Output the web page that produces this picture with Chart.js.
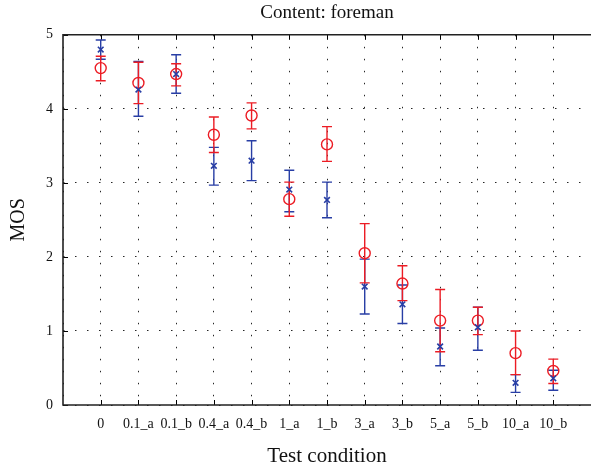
<!DOCTYPE html>
<html>
<head>
<meta charset="utf-8">
<script src="https://cdn.jsdelivr.net/npm/chart.js@4.4.1/dist/chart.umd.min.js"></script>
<style>
  html, body { margin:0; padding:0; background:#fff; }
  #wrap { width:591px; height:469px; }
</style>
</head>
<body>
<div id="wrap"><canvas id="canvas"></canvas></div>
<script>
// test conditions on the x axis
const conditions = ['0', '0.1_a', '0.1_b', '0.4_a', '0.4_b', '1_a', '1_b', '3_a', '3_b', '5_a', '5_b', '10_a', '10_b'];
const yTicks = [0, 1, 2, 3, 4, 5];

// blue series (x markers)
const blueMos  = [4.80, 4.26, 4.47, 3.23, 3.30, 2.91, 2.77, 1.60, 1.36, 0.79, 1.05, 0.30, 0.36];
const blueHigh = [4.93, 4.64, 4.73, 3.48, 3.57, 3.17, 3.01, 1.97, 1.62, 1.04, 1.32, 0.41, 0.47];
const blueLow  = [4.67, 3.90, 4.21, 2.97, 3.03, 2.61, 2.53, 1.23, 1.10, 0.53, 0.74, 0.17, 0.20];

// red series (circles)
const redMos  = [4.55, 4.35, 4.47, 3.65, 3.91, 2.78, 3.52, 2.05, 1.64, 1.14, 1.14, 0.70, 0.46];
const redHigh = [4.71, 4.63, 4.61, 3.89, 4.08, 3.01, 3.76, 2.45, 1.88, 1.56, 1.32, 1.00, 0.62];
const redLow  = [4.38, 4.07, 4.31, 3.41, 3.73, 2.55, 3.29, 1.65, 1.41, 0.72, 0.95, 0.41, 0.29];

const BLUE = 'rgb(40,62,165)';
const RED = 'rgb(236,28,36)';
const FONT = '"Liberation Serif", "DejaVu Serif", serif';

function pts(vals) {
    return vals.map((v, i) => ({x: i, y: v}));
}

// error bars + frame + inward ticks
const errBars = {
    id: 'errBars',
    beforeDatasetsDraw(chart) {
        const ctx = chart.ctx, ys = chart.scales.y, xs = chart.scales.x;
        const a = chart.chartArea;
        ctx.save();
        ctx.strokeStyle = '#000';
        ctx.lineWidth = 1;
        conditions.forEach((c, i) => {
            const px = Math.round(xs.getPixelForValue(i)) + 0.5;
            ctx.beginPath();
            ctx.moveTo(px, a.bottom); ctx.lineTo(px, a.bottom - 5);
            ctx.moveTo(px, a.top); ctx.lineTo(px, a.top + 5);
            ctx.stroke();
        });
        yTicks.forEach(v => {
            const py = Math.round(ys.getPixelForValue(v)) + 0.5;
            ctx.beginPath();
            ctx.moveTo(a.left, py); ctx.lineTo(a.left + 5, py);
            ctx.stroke();
        });
        ctx.restore();

        chart.data.datasets.forEach((ds, di) => {
            const meta = chart.getDatasetMeta(di);
            ctx.save();
            ctx.strokeStyle = ds.borderColor;
            ctx.lineWidth = 1.4;
            meta.data.forEach((p, i) => {
                const hi = ys.getPixelForValue(ds.errHigh[i]);
                const lo = ys.getPixelForValue(ds.errLow[i]);
                ctx.beginPath();
                ctx.moveTo(p.x, hi); ctx.lineTo(p.x, lo);
                ctx.moveTo(p.x - 5, hi); ctx.lineTo(p.x + 5, hi);
                ctx.moveTo(p.x - 5, lo); ctx.lineTo(p.x + 5, lo);
                ctx.stroke();
            });
            ctx.restore();
        });
    },
    afterDraw(chart) {
        const ctx = chart.ctx, a = chart.chartArea;
        ctx.save();
        ctx.strokeStyle = '#222';
        ctx.lineWidth = 1.6;
        ctx.beginPath();
        ctx.moveTo(chart.width, a.top);
        ctx.lineTo(a.left, a.top);
        ctx.lineTo(a.left, a.bottom);
        ctx.lineTo(chart.width, a.bottom);
        ctx.stroke();
        ctx.restore();
    }
};

let ctx = document.getElementById('canvas').getContext('2d');
window.myChart = new Chart(ctx, {
    type: 'line',
    data: {
        datasets: [{
            label: 'blue',
            data: pts(blueMos),
            errHigh: blueHigh,
            errLow: blueLow,
            showLine: false,
            borderColor: BLUE,
            backgroundColor: BLUE,
            pointStyle: 'crossRot',
            pointRadius: 4,
            pointBorderWidth: 1.6
        }, {
            label: 'red',
            data: pts(redMos),
            errHigh: redHigh,
            errLow: redLow,
            showLine: false,
            borderColor: RED,
            backgroundColor: 'rgba(0,0,0,0)',
            pointStyle: 'circle',
            pointRadius: 5.5,
            pointBorderWidth: 1.4
        }]
    },
    options: {
        responsive: true,
        maintainAspectRatio: false,
        animation: false,
        layout: {autoPadding: false, padding: {left: 4, right: -1, top: 0, bottom: 0}},
        plugins: {
            legend: {display: false},
            tooltip: {enabled: false}
        },
        scales: {
            x: {
                type: 'linear',
                min: -1,
                max: 13,
                border: {display: false, dash: [1.5, 10.5]},
                grid: {color: 'rgba(0,0,0,0.85)', drawTicks: false, lineWidth: 1},
                ticks: {
                    stepSize: 1,
                    autoSkip: false,
                    maxRotation: 0,
                    padding: 11,
                    color: '#111',
                    font: {family: FONT, size: 14},
                    callback: v => conditions[v] !== undefined ? conditions[v] : ''
                },
                title: {
                    display: true,
                    text: 'Test condition',
                    color: '#111',
                    font: {family: FONT, size: 21},
                    padding: {top: 0, bottom: 0}
                },
                afterFit: s => { s.paddingRight = 0; }
            },
            top: {
                type: 'linear',
                position: 'top',
                min: -1,
                max: 13,
                grid: {display: false, drawTicks: false},
                border: {display: false},
                ticks: {display: false},
                title: {
                    display: true,
                    text: 'Content: foreman',
                    color: '#111',
                    font: {family: FONT, size: 19},
                    padding: {top: 2, bottom: 10}
                },
                afterFit: s => { s.paddingRight = 0; }
            },
            y: {
                min: 0,
                max: 5,
                border: {display: false, dash: [1.5, 10.5]},
                grid: {color: 'rgba(0,0,0,0.85)', drawTicks: false, lineWidth: 1},
                ticks: {
                    stepSize: 1,
                    padding: 10,
                    color: '#111',
                    font: {family: FONT, size: 14}
                },
                title: {
                    display: true,
                    text: 'MOS',
                    color: '#111',
                    font: {family: FONT, size: 20},
                    padding: {top: 3, bottom: 8}
                },
                afterFit: s => { s.width = 59; }
            }
        }
    },
    plugins: [errBars]
});
</script>
</body>
</html>
